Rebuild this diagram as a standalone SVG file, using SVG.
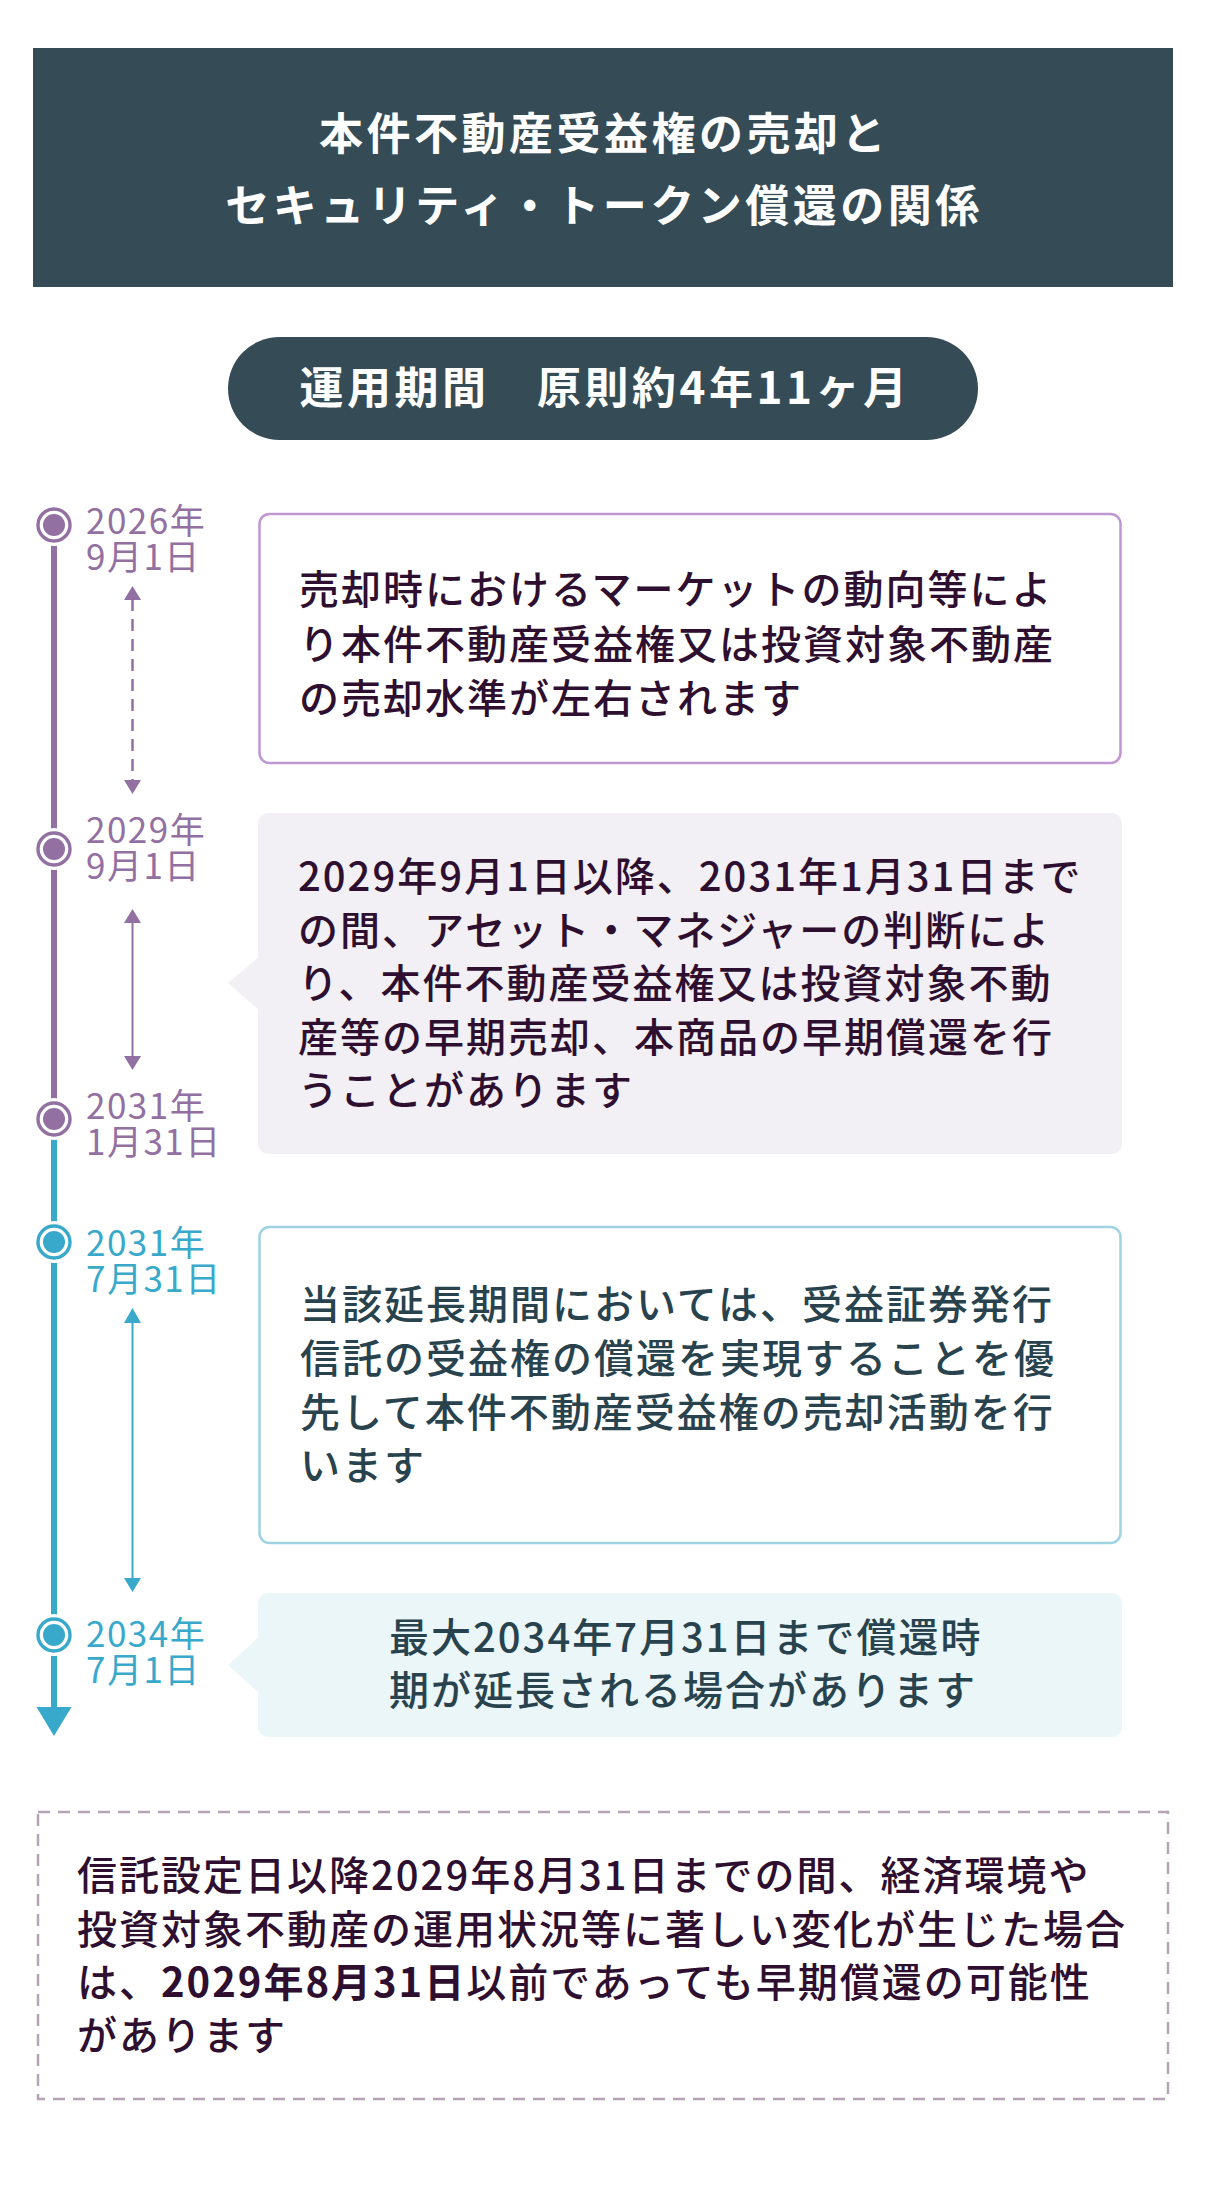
<svg xmlns="http://www.w3.org/2000/svg" width="1206" height="2199" viewBox="0 0 1206 2199">
<defs>
<style>
text{font-family:"Noto Sans CJK JP","Noto Sans",sans-serif;}
.title{font-size:44px;font-weight:700;fill:#ffffff;letter-spacing:3.5px;}
.lbl{font-size:35px;letter-spacing:1.5px;}
.lp{fill:#9370a2;}
.lt{fill:#38a9cb;}
.body{font-size:40px;letter-spacing:2px;font-weight:500;}
.bp{fill:#2e0f30;}
.bt{fill:#29434e;}
.b{font-weight:700;}
</style>
</defs>
<rect width="1206" height="2199" fill="#ffffff"/>
<g id="header">
<rect x="33" y="48" width="1140" height="239" fill="#354c56"/>
<text class="title" x="604" y="150" text-anchor="middle">本件不動産受益権の売却と</text>
<text class="title" x="604" y="222" text-anchor="middle">セキュリティ・トークン償還の関係</text>
</g>
<g id="period">
<rect x="228" y="337" width="750" height="103" rx="51.5" fill="#354c56"/>
<text class="title" x="605" y="404" text-anchor="middle">運用期間　原則約4年11ヶ月</text>
</g>
<g id="connectors">
<line x1="54" y1="525" x2="54" y2="1119" stroke="#9370a2" stroke-width="6"/>
<line x1="54" y1="1119" x2="54" y2="1708" stroke="#38a9cb" stroke-width="6"/>
<polygon points="36.5,1707 71.5,1707 54,1736" fill="#38a9cb"/>
<line x1="132.5" y1="599" x2="132.5" y2="781" stroke="#9370a2" stroke-width="2.5" stroke-dasharray="12 8"/>
<polygon points="124,600 141,600 132.5,586" fill="#9370a2"/>
<polygon points="124,780 141,780 132.5,794" fill="#9370a2"/>
<line x1="132.5" y1="922" x2="132.5" y2="1057" stroke="#9370a2" stroke-width="2"/>
<polygon points="124,923 141,923 132.5,909" fill="#9370a2"/>
<polygon points="124,1056 141,1056 132.5,1070" fill="#9370a2"/>
<line x1="132.5" y1="1322" x2="132.5" y2="1579" stroke="#38a9cb" stroke-width="2"/>
<polygon points="124,1323 141,1323 132.5,1308" fill="#38a9cb"/>
<polygon points="124,1578 141,1578 132.5,1592" fill="#38a9cb"/>
</g>
<g id="m2026">
<circle cx="54" cy="525" r="21" fill="#ffffff"/>
<circle cx="54" cy="525" r="16" fill="#ffffff" stroke="#9370a2" stroke-width="3.4"/>
<circle cx="54" cy="525" r="11" fill="#9370a2"/>
<text class="lbl lp" x="86" y="534">2026年<tspan x="86" dy="36">9月1日</tspan></text>
</g>
<g id="m2029">
<circle cx="54" cy="849" r="21" fill="#ffffff"/>
<circle cx="54" cy="849" r="16" fill="#ffffff" stroke="#9370a2" stroke-width="3.4"/>
<circle cx="54" cy="849" r="11" fill="#9370a2"/>
<text class="lbl lp" x="86" y="843">2029年<tspan x="86" dy="36">9月1日</tspan></text>
</g>
<g id="m2031a">
<circle cx="54" cy="1119" r="21" fill="#ffffff"/>
<circle cx="54" cy="1119" r="16" fill="#ffffff" stroke="#9370a2" stroke-width="3.4"/>
<circle cx="54" cy="1119" r="11" fill="#9370a2"/>
<text class="lbl lp" x="86" y="1119">2031年<tspan x="86" dy="36">1月31日</tspan></text>
</g>
<g id="m2031b">
<circle cx="54" cy="1242" r="21" fill="#ffffff"/>
<circle cx="54" cy="1242" r="16" fill="#ffffff" stroke="#38a9cb" stroke-width="3.4"/>
<circle cx="54" cy="1242" r="11" fill="#38a9cb"/>
<text class="lbl lt" x="86" y="1256">2031年<tspan x="86" dy="36">7月31日</tspan></text>
</g>
<g id="m2034">
<circle cx="54" cy="1635" r="21" fill="#ffffff"/>
<circle cx="54" cy="1635" r="16" fill="#ffffff" stroke="#38a9cb" stroke-width="3.4"/>
<circle cx="54" cy="1635" r="11" fill="#38a9cb"/>
<text class="lbl lt" x="86" y="1647">2034年<tspan x="86" dy="36">7月1日</tspan></text>
</g>
<g id="box1">
<rect x="259.5" y="514" width="861" height="249" rx="10" fill="#ffffff" stroke="#c197d2" stroke-width="2.5"/>
<text class="body bp" x="299" y="604">売却時におけるマーケットの動向等によ</text>
<text class="body bp" x="299" y="659">り本件不動産受益権又は投資対象不動産</text>
<text class="body bp" x="299" y="713">の売却水準が左右されます</text>
</g>
<g id="box2">
<rect x="258" y="813" width="864" height="341" rx="10" fill="#f2f0f5"/>
<polygon points="259,957 228,983 259,1010" fill="#f2f0f5"/>
<text class="body bp" x="298" y="891">2029年9月1日以降、2031年1月31日まで</text>
<text class="body bp" x="298" y="944.5">の間、アセット・マネジャーの判断によ</text>
<text class="body bp" x="298" y="998">り、本件不動産受益権又は投資対象不動</text>
<text class="body bp" x="298" y="1051.5">産等の早期売却、本商品の早期償還を行</text>
<text class="body bp" x="298" y="1105">うことがあります</text>
</g>
<g id="box3">
<rect x="259.5" y="1227" width="861" height="316" rx="10" fill="#ffffff" stroke="#9fd3e3" stroke-width="2.5"/>
<text class="body bt" x="300" y="1319">当該延長期間においては、受益証券発行</text>
<text class="body bt" x="300" y="1373">信託の受益権の償還を実現することを優</text>
<text class="body bt" x="300" y="1427">先して本件不動産受益権の売却活動を行</text>
<text class="body bt" x="300" y="1480">います</text>
</g>
<g id="box4">
<rect x="258" y="1593" width="864" height="144" rx="10" fill="#eaf6f8"/>
<polygon points="259,1637 228,1665 259,1693" fill="#eaf6f8"/>
<text class="body bt" x="389" y="1652">最大2034年7月31日まで償還時</text>
<text class="body bt" x="389" y="1705">期が延長される場合があります</text>
</g>
<g id="note">
<rect x="38" y="1812" width="1130" height="287" fill="none" stroke="#b5a3b6" stroke-width="2.5" stroke-dasharray="12 8"/>
<text class="body bp" x="77" y="1890">信託設定日以降2029年8月31日までの間、経済環境や</text>
<text class="body bp" x="77" y="1943.5">投資対象不動産の運用状況等に著しい変化が生じた場合</text>
<text class="body bp" x="77" y="1997">は、<tspan class="b">2029年8月31日</tspan>以前であっても早期償還の可能性</text>
<text class="body bp" x="77" y="2050">があります</text>
</g>
</svg>
